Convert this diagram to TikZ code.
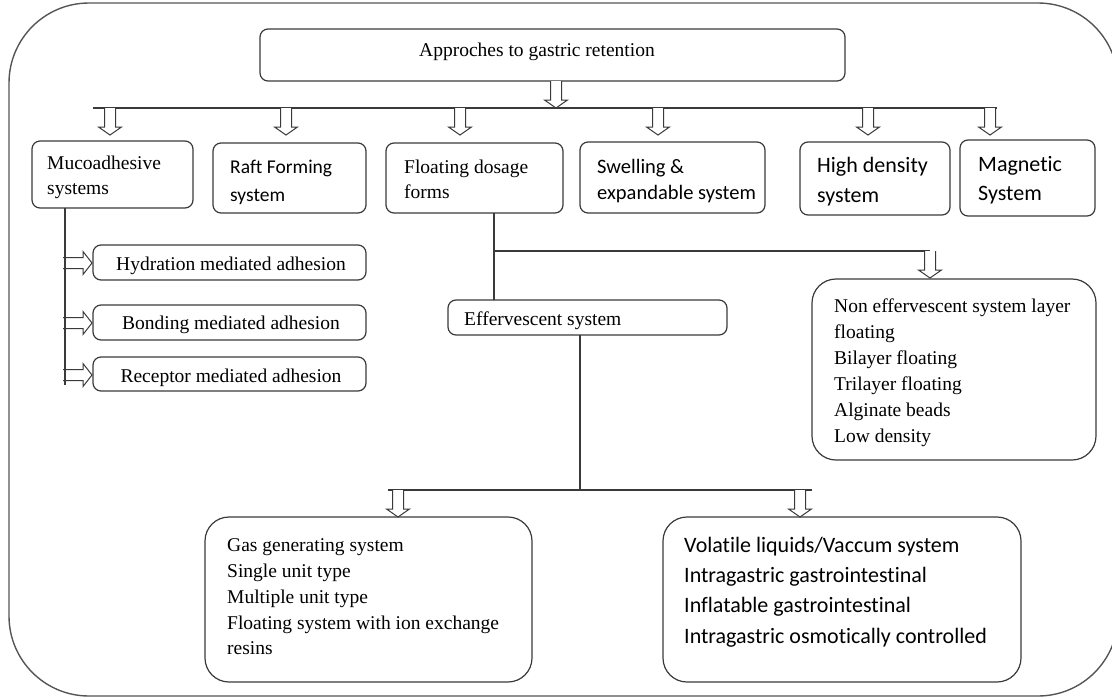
\documentclass[tikz,border=0pt]{standalone}
\usepackage{fontspec}
\setmainfont{Liberation Serif}
\newfontfamily\carl[Ligatures=NoCommon]{Carlito}
\definecolor{lc}{HTML}{3A3A3A}
\definecolor{fc}{HTML}{555555}
\begin{document}
\begin{tikzpicture}[x=1pt,y=-1pt,
  box/.style={draw=lc, line width=1.2pt, rounded corners=8pt, fill=white, anchor=north west, inner sep=0pt, outer sep=0pt},
  bigbox/.style={box, rounded corners=24pt},
  txt/.style={anchor=west, inner sep=0pt, align=left, text=black},
  ser/.style={font=\fontsize{19.5}{#1}\selectfont},
  conn/.style={draw=lc, line width=1.1pt},
  darr/.pic={\draw[lc, line width=1pt, fill=white, line join=miter] (-5.5,0) -- (-5.5,19) -- (-11.5,19) -- (0,27) -- (11.5,19) -- (5.5,19) -- (5.5,0);},
  rarr/.pic={\draw[lc, line width=1pt, fill=white, line join=miter] (0,-5.5) -- (20,-5.5) -- (20,-11.5) -- (29,0) -- (20,11.5) -- (20,5.5) -- (0,5.5);}
]
\useasboundingbox (0,0) rectangle (1112,697);
% outer frame
\draw[fc, line width=1.4pt, rounded corners=80pt] (9,3) rectangle (1118,696);

% boxes
\node[box, minimum width=585pt, minimum height=52pt] (top) at (260,29) {};
\node[box, minimum width=161pt, minimum height=67pt] (muco) at (32,141) {};
\node[box, minimum width=153pt, minimum height=70pt] (raft) at (213,143) {};
\node[box, minimum width=177pt, minimum height=70pt] (float) at (386,143) {};
\node[box, minimum width=185pt, minimum height=71pt] (swell) at (580,142) {};
\node[box, minimum width=150pt, minimum height=73pt] (high) at (800,142) {};
\node[box, minimum width=135pt, minimum height=76pt] (magn) at (960,140) {};
\node[box, minimum width=273pt, minimum height=35pt] (hyd) at (93,245) {};
\node[box, minimum width=273pt, minimum height=35pt] (bond) at (93,305) {};
\node[box, minimum width=273pt, minimum height=34pt] (rec) at (93,357) {};
\node[box, minimum width=279pt, minimum height=35pt] (eff) at (448,300) {};
\node[bigbox, minimum width=284pt, minimum height=181pt] (noneff) at (812,279) {};
\node[bigbox, minimum width=327pt, minimum height=165pt] (gas) at (205,517) {};
\node[bigbox, minimum width=358pt, minimum height=165pt] (vol) at (663,517) {};

% texts
\node[txt, ser=25] (topt) at (419,52) {Approches to gastric retention};
\node[txt, ser=25] (mucot) at (47,177) {Mucoadhesive\\systems};
\node[txt, font=\carl\fontsize{19.5}{28}\selectfont] (raftt) at (230,182) {Raft Forming\\system};
\node[txt, ser=25] (floatt) at (404,179) {Floating dosage\\forms};
\node[txt, font=\carl\fontsize{20.5}{26}\selectfont] (swellt) at (597,181) {Swelling \&\\expandable system};
\node[txt, font=\carl\fontsize{22}{30}\selectfont] (hight) at (817,182) {High density\\system};
\node[txt, font=\carl\fontsize{22}{29}\selectfont] (magnt) at (978,180.5) {Magnetic\\System};
\node[txt, ser=25, anchor=center] (hydt) at (231,266) {Hydration mediated adhesion};
\node[txt, ser=25, anchor=center] (bondt) at (231,325) {Bonding mediated adhesion};
\node[txt, ser=25, anchor=center] (rect) at (231,378) {Receptor mediated adhesion};
\node[txt, ser=25] (efft) at (464,321) {Effervescent system};
\node[txt, ser=26] (nonefft) at (834,372.5) {Non effervescent system layer\\floating\\Bilayer floating\\Trilayer floating\\Alginate beads\\Low density};
\node[txt, ser=25.75] (gast) at (227,597) {Gas generating system\\Single unit type\\Multiple unit type\\Floating system with ion exchange\\resins};
\node[txt, font=\carl\fontsize{22}{30.3}\selectfont] (volt) at (684,592) {Volatile liquids/Vaccum system\\Intragastric gastrointestinal\\Inflatable gastrointestinal\\Intragastric osmotically controlled};

% connectors
\coordinate (barL) at (93,108);
\coordinate (barR) at (997,108);
\draw[conn] (barL) -- (barR);

\coordinate (fj) at (494,251);
\coordinate (nj) at (930,251);
\draw[conn] (float.south -| fj) -- (eff.north -| fj);
\draw[conn] (fj) -- (nj);

\coordinate (ej) at (580,490);
\coordinate (gl) at (388,490);
\coordinate (gr) at (812,490);
\draw[conn] (eff.south -| ej) -- (ej);
\draw[conn] (gl) -- (gr);

% hollow arrows
\pic at (556,81) {darr};
\pic at (110,108) {darr};
\pic at (286,108) {darr};
\pic at (460,108) {darr};
\pic at (658,108) {darr};
\pic at (868,108) {darr};
\pic at (990,108) {darr};
\pic at (nj) {darr};
\pic at (398,490) {darr};
\pic at (800,490) {darr};
\pic at (63,263) {rarr};
\pic at (63,323) {rarr};
\pic at (63,375) {rarr};

% mucoadhesive trunk drawn over the arrow tails
\coordinate (mv) at (65,385);
\draw[conn] (muco.south -| mv) -- (mv);
\end{tikzpicture}
\end{document}
